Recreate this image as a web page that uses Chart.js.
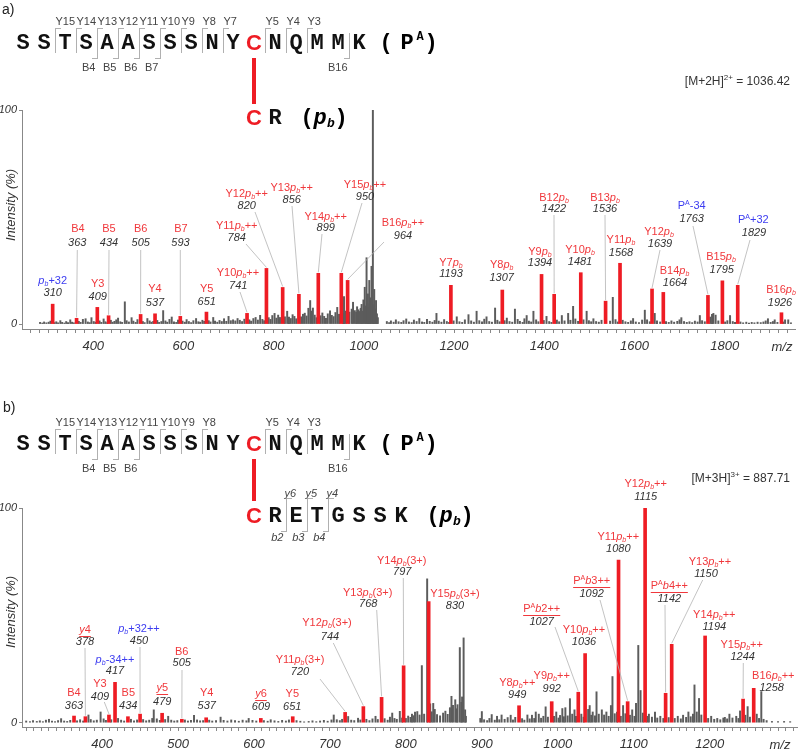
<!doctype html>
<html>
<head>
<meta charset="utf-8" />
<script src="https://cdn.jsdelivr.net/npm/chart.js@4.4.1/dist/chart.umd.min.js"></script>
<style>
  body { margin: 0; background: #fff; }
  #fig { position: relative; width: 800px; height: 752px; overflow: hidden; background: #fff;
         font-family: "Liberation Sans", Arial, sans-serif; }
  #fig canvas { position: absolute; left: 0; }
  .t { position: absolute; white-space: nowrap; line-height: 1; }
  .t sup { font-size: 8px; vertical-align: 5px; line-height: 0; }
</style>
</head>
<body>
<div id="fig">
  <canvas id="chartA" width="800" height="360" style="top:0px"></canvas>
  <canvas id="chartB" width="800" height="382" style="top:370px"></canvas>
</div>
<script>
  // ---- peptide / header data ----
  const peptide = "SSTSAASSSNYCNQMMK";
  const crossSite = 11;
  const yIonsA = [15, 14, 13, 12, 11, 10, 9, 8, 7, 5, 4, 3];
  const bIonsA = [4, 5, 6, 7, 16];
  const yIonsB = [15, 14, 13, 12, 11, 10, 9, 8, 5, 4, 3];
  const bIonsB = [4, 5, 6, 16];
  const linkA = "CR";
  const linkB = "CRETGSSK";
  const linkYIonsB = [6, 5, 4];
  const linkBIonsB = [2, 3, 4];
  const precursorA = ["[M+2H]", "2+", "1036.42"];
  const precursorB = ["[M+3H]", "3+", "887.71"];

  // ---- axis ticks ----
  const xTicksA = [400, 600, 800, 1000, 1200, 1400, 1600, 1800];
  const xTicksB = [400, 500, 600, 700, 800, 900, 1000, 1100, 1200];
  const yTicks = [0, 100];

  // ---- panel a: assigned (red) peaks ----
  const redMzA = [310, 363, 409, 434, 505, 537, 593, 651, 741, 784, 820, 856, 899, 950, 964,
                  1193, 1307, 1394, 1422, 1481, 1536, 1568, 1639, 1664, 1763, 1795, 1829, 1926];
  const redIntA = [9.3, 2.7, 7.8, 3.9, 4.5, 4.8, 3.6, 5.6, 5.0, 26.0, 17.1, 13.9, 23.7, 23.7, 20.4,
                   18.1, 15.9, 23.2, 13.9, 24.0, 10.7, 28.4, 16.4, 14.8, 13.4, 20.2, 18.1, 5.3];
  const namesA = ["~p~_b+32", "B4", "Y3", "B5", "B6", "Y4", "B7", "Y5",
                  "Y10~p~_b++", "Y11~p~_b++", "Y12~p~_b++", "Y13~p~_b++", "Y14~p~_b++", "Y15~p~_b++", "B16~p~_b++",
                  "Y7~p~_b", "Y8~p~_b", "Y9~p~_b", "B12~p~_b", "Y10~p~_b", "B13~p~_b", "Y11~p~_b", "Y12~p~_b",
                  "B14~p~_b", "P^A-34", "B15~p~_b", "P^A+32", "B16~p~_b"];
  const blueA = [310, 1763, 1829];
  const underA = [];

  // ---- panel a: unassigned (grey) peaks [m/z, %] ----
  const grayA = [
    [282,0.8],[287,0.5],[291,1.0],[296,0.6],[301,0.9],[305,1.4],[314,0.7],[318,1.1],[322,0.6],[327,1.6],
    [331,0.8],[336,0.5],[340,1.2],[344,0.7],[349,2.0],[353,0.9],[357,0.6],[368,1.3],[372,0.8],[377,2.2],
    [383,2.5],[388,1.0],[392,0.7],[396,3.0],[401,1.2],[405,0.9],[414,1.5],[418,0.8],[423,2.4],[427,1.1],
    [431,0.7],[439,1.8],[443,0.9],[447,1.3],[451,2.0],[455,2.8],[460,1.1],[464,0.8],[470,10.4],[474,1.6],
    [479,1.0],[485,3.0],[489,1.4],[494,0.8],[498,2.1],[510,1.2],[514,0.7],[520,2.6],[525,1.5],[529,0.9],
    [533,1.3],[542,1.7],[546,0.8],[551,1.2],[555,6.3],[560,1.5],[564,0.9],[569,2.2],[574,3.3],[579,1.1],
    [584,0.8],[588,1.9],[598,1.4],[603,0.9],[607,2.1],[612,1.2],[617,0.7],[622,1.6],[628,2.6],[633,1.1],
    [637,0.9],[642,1.8],[646,1.3],[656,1.6],[660,1.0],[666,3.1],[670,1.4],[675,0.9],[680,1.7],[685,1.2],
    [690,2.5],[695,1.3],[700,3.6],[705,1.6],[710,2.0],[715,1.5],[720,2.6],[725,1.8],[730,1.2],[735,2.3],
    [746,2.0],[750,1.4],[755,2.6],[760,3.1],[765,1.9],[770,4.1],[775,2.2],[779,1.6],[789,3.0],[793,2.2],
    [797,4.0],[802,5.0],[806,2.8],[810,4.2],[814,3.1],[825,3.4],[830,6.0],[834,3.3],[838,2.6],[842,4.4],
    [846,3.6],[850,2.5],[861,3.4],[865,4.6],[869,5.1],[873,3.8],[877,7.4],[881,11.0],[884,6.1],[887,7.5],
    [891,4.2],[895,3.0],[904,3.9],[908,5.2],[912,3.6],[916,2.7],[920,4.8],[925,6.2],[929,4.1],[933,3.5],
    [937,5.4],[941,7.8],[945,4.6],[954,5.2],[956,12.8],[960,6.1],[968,5.6],[973,7.0],[976,10.2],[980,6.3],
    [983,5.5],[985,8.1],[988,6.7],[990,5.9],[993,7.4],[995,9.2],[997,6.0],[999,11.3],[1002,17.2],[1004,8.5],
    [1006,31.0],[1008,9.6],[1009,14.1],[1011,7.9],[1012,20.4],[1014,8.8],[1015,12.3],[1017,27.0],[1020,100],
    [1021,9.0],[1023,16.2],[1025,7.0],[1027,11.0],[1029,4.8],[1031,3.0],
    [1051,1.2],[1056,0.7],[1060,1.5],[1066,0.9],[1071,2.0],[1077,1.1],[1083,0.8],[1088,1.6],[1094,2.4],
    [1100,1.0],[1106,0.7],[1111,1.9],[1117,1.2],[1123,2.6],[1129,1.0],[1134,0.8],[1140,2.2],[1146,1.3],
    [1152,0.9],[1157,1.7],[1161,5.0],[1166,1.4],[1172,0.9],[1178,2.1],[1184,1.2],[1189,0.8],[1199,1.5],
    [1206,3.4],[1212,1.1],[1218,0.8],[1224,2.0],[1232,4.4],[1238,1.5],[1244,0.9],[1250,6.0],[1256,1.6],
    [1262,1.0],[1267,2.3],[1272,3.4],[1278,1.2],[1284,0.9],[1291,7.5],[1296,1.8],[1301,1.1],[1312,1.6],
    [1317,2.8],[1323,1.2],[1329,0.9],[1335,7.0],[1341,2.2],[1346,1.3],[1352,0.8],[1356,2.5],[1361,4.0],
    [1366,1.4],[1371,1.0],[1376,6.0],[1382,2.0],[1387,1.1],[1399,1.7],[1405,3.6],[1411,1.2],[1416,0.8],
    [1428,1.9],[1433,1.1],[1439,4.0],[1445,1.5],[1453,5.0],[1458,1.8],[1464,8.3],[1469,2.4],[1475,1.3],
    [1487,2.0],[1494,6.0],[1499,1.6],[1504,1.1],[1509,2.5],[1515,1.2],[1521,0.9],[1527,1.8],[1546,1.4],
    [1552,12.5],[1558,2.1],[1563,1.0],[1574,1.8],[1580,1.1],[1586,0.8],[1592,1.5],[1597,2.6],[1603,1.0],
    [1610,0.7],[1617,1.9],[1623,6.5],[1628,2.0],[1634,1.1],[1645,5.0],[1650,1.5],[1657,1.0],[1670,1.2],
    [1676,0.8],[1682,1.5],[1688,0.9],[1695,1.3],[1700,2.0],[1704,3.0],[1710,1.2],[1716,0.8],[1722,1.1],
    [1728,0.7],[1734,1.4],[1740,1.0],[1745,4.0],[1750,1.6],[1756,1.1],[1768,3.3],[1772,4.5],[1775,5.0],
    [1780,4.2],[1786,1.5],[1801,1.0],[1806,1.6],[1812,4.0],[1818,1.2],[1823,0.8],[1835,1.0],[1841,0.6],
    [1848,0.9],[1854,0.5],[1860,0.8],[1866,0.6],[1873,0.9],[1880,0.7],[1886,1.0],[1891,1.5],[1896,2.5],
    [1902,0.8],[1907,1.2],[1911,2.0],[1917,0.8],[1930,1.0],[1934,2.0],[1941,2.0],[1947,0.6]
  ];

  // ---- panel b: assigned (red) peaks ----
  const redMzB = [363, 378, 409, 417, 434, 450, 479, 505, 537, 609, 651, 720, 744, 768, 797, 830,
                  949, 992, 1027, 1036, 1080, 1092, 1115, 1142, 1150, 1194, 1244, 1258];
  const redIntB = [3.1, 2.8, 3.6, 18.8, 2.8, 4.0, 4.4, 1.6, 2.3, 2.0, 2.8, 4.8, 7.5, 11.8, 26.5, 56.4,
                   7.9, 9.8, 14.2, 32.2, 75.8, 9.8, 100, 13.7, 36.5, 40.4, 11.0, 16.0];
  const namesB = ["B4", "~y~4", "Y3", "~p~_b-34++", "B5", "~p~_b+32++", "~y~5", "B6", "Y4", "~y~6", "Y5",
                  "Y11~p~_b(3+)", "Y12~p~_b(3+)", "Y13~p~_b(3+)", "Y14~p~_b(3+)", "Y15~p~_b(3+)",
                  "Y8~p~_b++", "Y9~p~_b++", "P^A~b~2++", "Y10~p~_b++", "Y11~p~_b++", "P^A~b~3++",
                  "Y12~p~_b++", "P^A~b~4++", "Y13~p~_b++", "Y14~p~_b++", "Y15~p~_b++", "B16~p~_b++"];
  const blueB = [417, 450];
  const underB = [378, 479, 609, 1027, 1092, 1142];

  // ---- panel b: unassigned (grey) peaks [m/z, %] ----
  const grayB = [
    [300,0.8],[305,0.5],[309,1.0],[314,0.6],[318,0.9],[322,0.5],[326,1.2],[330,1.6],[334,0.7],[338,0.5],
    [342,1.0],[346,1.9],[350,0.8],[354,0.6],[358,1.1],[367,0.9],[371,1.4],[375,0.8],[382,3.6],[385,1.5],
    [389,0.9],[393,1.2],[398,5.0],[402,1.8],[405,1.1],[412,1.4],[421,2.0],[425,1.2],[429,0.8],[438,1.6],
    [442,0.9],[446,1.3],[454,1.5],[458,0.9],[462,1.2],[466,2.0],[468,6.0],[472,1.8],[476,1.1],[483,1.5],
    [487,3.0],[491,1.2],[495,0.8],[499,1.0],[509,1.3],[513,0.8],[517,1.1],[521,3.4],[525,1.3],[529,0.9],
    [533,1.0],[541,1.2],[545,0.8],[550,1.0],[556,2.6],[560,1.1],[565,0.8],[570,1.3],[575,1.0],[580,0.7],
    [585,1.2],[590,0.9],[593,2.0],[598,1.1],[603,0.8],[613,1.0],[618,0.7],[622,1.4],[627,0.9],[632,0.6],
    [637,1.1],[642,0.8],[646,1.3],[656,1.0],[661,0.7],[666,0.4],[672,0.6],[677,0.9],[682,0.5],[687,0.8],
    [692,1.1],[697,0.7],[702,1.3],[705,3.6],[709,1.4],[713,1.0],[716,1.6],[724,2.9],[728,1.2],[732,1.0],
    [737,2.1],[740,1.3],[748,1.6],[752,1.0],[756,1.8],[760,3.0],[763,1.5],[772,1.9],[776,1.2],[779,2.6],
    [782,4.5],[785,2.0],[788,1.6],[792,5.3],[795,2.2],[800,2.0],[803,3.1],[806,2.5],[808,4.0],[810,3.3],
    [812,5.0],[815,5.2],[818,3.6],[821,26.6],[824,4.0],[828,67.0],[832,8.8],[834,5.1],[836,9.0],[838,6.2],
    [841,3.8],[845,3.2],[849,4.5],[852,5.4],[855,3.9],[858,7.0],[860,12.3],[862,8.1],[865,10.7],[867,6.5],
    [868,8.4],[871,35.0],[873,9.5],[874,12.0],[876,39.5],[878,6.0],[879,3.0],
    [898,2.0],[900,5.2],[903,1.4],[907,1.0],[910,2.0],[913,3.8],[917,1.2],[920,3.0],[923,1.4],[926,3.6],
    [930,1.6],[934,2.4],[938,3.5],[941,1.3],[944,2.5],[953,1.9],[956,1.2],[960,3.6],[963,1.8],[966,3.5],
    [969,2.0],[971,5.0],[975,4.0],[978,2.1],[981,3.0],[984,7.4],[987,2.6],[995,3.0],[998,5.0],[1001,2.2],
    [1003,3.4],[1006,6.6],[1008,2.8],[1010,7.0],[1013,3.2],[1016,11.2],[1019,4.0],[1022,6.0],[1024,3.0],
    [1031,4.0],[1034,2.6],[1040,6.2],[1042,8.0],[1044,3.5],[1046,5.0],[1049,3.2],[1051,14.4],[1054,4.0],
    [1058,6.0],[1061,3.6],[1064,5.0],[1067,3.0],[1070,8.0],[1072,21.5],[1075,4.2],[1078,5.0],[1083,3.0],
    [1086,8.0],[1089,4.2],[1095,3.5],[1098,6.0],[1101,3.0],[1103,9.0],[1106,36.0],[1109,15.0],[1112,4.5],
    [1118,3.0],[1120,4.0],[1124,2.6],[1128,5.0],[1131,2.2],[1135,3.0],[1139,2.0],[1146,2.4],[1154,2.0],
    [1158,3.0],[1162,1.8],[1165,3.5],[1169,2.5],[1172,5.0],[1175,2.8],[1178,4.0],[1180,17.6],[1183,5.0],
    [1186,11.3],[1189,3.6],[1198,2.0],[1202,3.0],[1206,1.6],[1210,2.0],[1214,1.4],[1218,2.2],[1220,2.5],
    [1223,1.8],[1226,4.0],[1230,2.2],[1235,3.0],[1238,2.0],[1240,5.5],[1247,3.5],[1250,7.5],[1253,2.6],
    [1262,4.0],[1265,2.0],[1268,14.5],[1271,1.6],[1275,1.0],[1282,0.6],[1290,0.5],[1298,0.6],[1306,0.5]
  ];

  // ---- label layout (page px): name x,y, number x,y, optional leader start x,y ----
  const labelPosA = [
    [52.7,281, 52.7,293], [78,229, 77.3,243, 77.3,250], [97.7,284, 97.7,297], [109,229, 109,243, 109,250],
    [140.7,229, 140.7,243, 140.7,250], [155,289, 155,303], [181,229, 180.5,243, 180.3,250], [206.7,289, 206.7,302],
    [238,273, 238.3,286, 240,292], [236.7,226, 236.7,238, 246,244], [246.7,194, 246.7,206, 255,212],
    [291.7,188, 291.7,200, 292,206], [325.7,217, 325.7,228, 322,234], [365,185, 365,197, 362,203],
    [403,223, 403,236, 384,242], [451,263, 451,274], [501.7,265, 501.7,278], [540,252, 540,263],
    [554,198, 554,209, 554,215], [580,250, 580,262], [605,198, 605,209, 605,215], [621,240, 621,252.5],
    [659,232, 660,244, 660,250], [674.5,271, 675,283], [691.7,206, 691.7,219, 693,226], [721,257, 721.7,270],
    [753.3,220, 754,232.7, 750,240], [781,290, 780,303]
  ];
  const labelPosB = [
    [74,693, 74,706], [85,630, 85,642, 85,648], [100,684, 100,697, 104.3,702], [115,660, 115,671],
    [128.3,693, 128.3,706], [139,629, 139,641, 140,647], [162.3,688, 162.3,702], [181.7,652, 181.7,663, 182,670],
    [206.7,693, 206.7,706], [261,694, 261,707], [292.3,694, 292.3,706.5], [300,660, 300,672, 320,679],
    [327,623, 330,637, 333.3,643], [367.7,593, 368.3,604, 376.7,610], [401.7,561, 402.3,572, 403.3,578],
    [455,594, 455,606], [517.3,683, 517.3,695], [551.7,676, 551.7,689], [541.7,609, 541.7,622, 555,627],
    [584,630, 584,642], [618.3,537, 618.3,549], [591.7,581, 591.7,594, 600,600], [645.7,484, 645.7,497],
    [669.3,586, 669.3,599, 665,605], [710,562, 706,574, 702.7,580], [714.3,615, 714.3,627],
    [741.7,645, 742.7,657, 743.3,663], [773.3,676, 771.7,688]
  ];

  const RED = "#ee1c24";
  const RED_TXT = "#f0383c";
  const BLUE_TXT = "#3c3cf0";
  const GRAY_BAR = "#5c5c5c";
  const FONT = '"Liberation Sans", Arial, sans-serif';
  const MONO = 'bold 22px "Liberation Mono", "DejaVu Sans Mono", monospace';
  const X0 = 23, PITCH = 21;

  // ---- header (sequence diagrams) as HTML text ----
  const fig = document.getElementById("fig");
  function put(html, x, y, style, align) {
    const d = document.createElement("div");
    d.className = "t";
    d.innerHTML = html;
    d.style.left = x + "px";
    d.style.top = y + "px";
    const tx = align === "left" ? "0" : align === "right" ? "-100%" : "-50%";
    d.style.transform = `translate(${tx},-50%)`;
    Object.assign(d.style, style || {});
    fig.appendChild(d);
    return d;
  }
  function box(x, y, w, h, style) {
    const d = document.createElement("div");
    Object.assign(d.style, { position: "absolute", left: x + "px", top: y + "px", width: w + "px", height: h + "px" }, style);
    fig.appendChild(d);
  }
  const cx = i => X0 + PITCH * i;
  const smallGray = { font: "11px " + FONT, color: "#444" };
  const bracketY = { borderLeft: "1px solid #b0b0b0", borderTop: "1px solid #b0b0b0" };
  const bracketB = { borderRight: "1px solid #b0b0b0", borderBottom: "1px solid #b0b0b0" };

  function letter(ch, i, row, red) {
    if (red) put(ch, cx(i), row + 1, { font: "bold 22px " + FONT, color: RED });
    else put(ch, cx(i), row + 1, { font: MONO, color: "#111" });
  }

  function header(h) {
    put(h.tag, h.tagX, h.tagY, { font: "14px " + FONT, color: "#222" }, "left");
    peptide.split("").forEach((ch, i) => letter(ch, i, h.row, i === crossSite));
    const k = cx(peptide.length - 1);
    put("(", k + 27, h.row + 1, { font: MONO });
    put("P", k + 48, h.row + 1, { font: MONO });
    put("A", k + 61, h.row - 5, { font: 'bold 12px "Liberation Mono", monospace' });
    put(")", k + 72, h.row + 1, { font: MONO });
    h.yIons.forEach(n => {
      const bx = cx(peptide.length - n) - PITCH / 2;
      box(bx, h.row - 14, 5, 24, bracketY);
      put("Y" + n, bx + 1, h.row - 21, smallGray, "left");
    });
    h.bIons.forEach(n => {
      const bx = cx(n - 1) + PITCH / 2;
      box(bx - 5, h.row - 9, 5, 25, bracketB);
      put("B" + n, bx - 1, h.row + 25, smallGray, "right");
    });
    box(cx(crossSite) - 2, h.barTop, 4, h.barBottom - h.barTop, { background: RED });
    h.link.split("").forEach((ch, j) => letter(ch, crossSite + j, h.row2, j === 0));
    const e = cx(crossSite + h.link.length - 1);
    put("(", e + 32, h.row2 + 1, { font: MONO });
    put("p", e + 45, h.row2 + 1, { font: "italic " + MONO });
    put("b", e + 56, h.row2 + 6, { font: 'bold italic 13px "Liberation Mono", monospace' });
    put(")", e + 66, h.row2 + 1, { font: MONO });
    (h.linkY || []).forEach(n => {
      const bx = cx(crossSite + h.link.length - n) - PITCH / 2;
      box(bx, h.row2 - 17, 5, 24, bracketY);
      put("y" + n, bx - 1, h.row2 - 22, { font: "italic 11px " + FONT, color: "#444" }, "left");
    });
    (h.linkB || []).forEach(n => {
      const bx = cx(crossSite + n - 1) + PITCH / 2;
      box(bx - 5, h.row2 - 8, 5, 24, bracketB);
      put("b" + n, bx - 2, h.row2 + 22, { font: "italic 11px " + FONT, color: "#444" }, "right");
    });
    const p = h.precursor;
    put(`${p[0]}<sup>${p[1]}</sup> = ${p[2]}`, 790, h.precY, { font: "12px " + FONT, color: "#333" }, "right");
  }

  header({ tag: "a)", tagX: 2, tagY: 9, row: 42, row2: 117, barTop: 58, barBottom: 104,
           yIons: yIonsA, bIons: bIonsA, link: linkA, precursor: precursorA, precY: 81 });
  header({ tag: "b)", tagX: 3, tagY: 407, row: 443, row2: 515, barTop: 459, barBottom: 501,
           yIons: yIonsB, bIons: bIonsB, link: linkB, linkY: linkYIonsB, linkB: linkBIonsB,
           precursor: precursorB, precY: 478 });

  // ---- rich text for peak names: ~ toggles italic, _x subscript, ^x superscript ----
  function parseRich(s) {
    const segs = [];
    let it = false;
    for (let i = 0; i < s.length; i++) {
      const c = s[i];
      if (c === "~") { it = !it; continue; }
      if (c === "_" || c === "^") {
        segs.push({ t: s[++i], it: c === "_" ? true : it, sub: c === "_", sup: c === "^" });
        continue;
      }
      const last = segs[segs.length - 1];
      if (last && !last.sub && !last.sup && last.it === it) last.t += c;
      else segs.push({ t: c, it, sub: false, sup: false });
    }
    return segs;
  }
  function drawRich(ctx, s, x0, y0, size, color, underline) {
    const segs = parseRich(s);
    const fontOf = g => `${g.it ? "italic " : ""}${g.sub || g.sup ? Math.round(size * 0.68) : size}px ${FONT}`;
    let w = 0;
    segs.forEach(g => { ctx.font = fontOf(g); g.w = ctx.measureText(g.t).width; w += g.w; });
    let x = x0 - w / 2;
    ctx.fillStyle = color;
    ctx.textAlign = "left";
    ctx.textBaseline = "middle";
    segs.forEach(g => {
      ctx.font = fontOf(g);
      ctx.fillText(g.t, x, y0 + (g.sub ? size * 0.3 : g.sup ? -size * 0.3 : 0));
      x += g.w;
    });
    if (underline) {
      const uy = Math.round(y0 + size * 0.55) + 0.5;
      ctx.strokeStyle = color;
      ctx.lineWidth = 1;
      ctx.beginPath();
      ctx.moveTo(x0 - w / 2, uy);
      ctx.lineTo(x0 + w / 2, uy);
      ctx.stroke();
    }
  }

  function labelPlugin(o) {
    return {
      id: "peakLabels",
      afterDatasetsDraw(chart) {
        const { ctx, scales: { x, y } } = chart;
        const top = o.canvasTop;
        ctx.save();
        o.mz.forEach((m, i) => {
          const L = o.layout[i];
          const px = x.getPixelForValue(m), py = y.getPixelForValue(o.ints[i]);
          if (L.length > 4) {
            ctx.strokeStyle = "#b4b4b4";
            ctx.lineWidth = 0.8;
            ctx.beginPath();
            ctx.moveTo(L[4], L[5] - top);
            ctx.lineTo(px, py - 1);
            ctx.stroke();
          }
          const color = o.blue.includes(m) ? BLUE_TXT : RED_TXT;
          drawRich(ctx, o.names[i], L[0], L[1] - top, 11, color, o.under.includes(m));
          ctx.font = "italic 11px " + FONT;
          ctx.fillStyle = "#333";
          ctx.textAlign = "center";
          ctx.textBaseline = "middle";
          ctx.fillText(String(m), L[2], L[3] - top);
        });
        ctx.font = "italic 13px " + FONT;
        ctx.fillStyle = "#333";
        ctx.textAlign = "center";
        ctx.fillText("m/z", o.mzLabel[0], o.mzLabel[1] - top);
        ctx.translate(11, o.titleY - top);
        ctx.rotate(-Math.PI / 2);
        ctx.fillText("Intensity (%)", 0, 0);
        ctx.restore();
      }
    };
  }

  function makeChart(id, o) {
    return new Chart(document.getElementById(id), {
      type: "bar",
      data: {
        datasets: [
          { data: o.mz.map((m, i) => ({ x: m, y: o.ints[i] })), backgroundColor: RED,
            barThickness: 3, grouped: false, order: 0 },
          { data: o.gray.map(([m, v]) => ({ x: m, y: v })), backgroundColor: GRAY_BAR,
            barThickness: 1.3, grouped: false, order: 1 }
        ]
      },
      options: {
        responsive: false,
        animation: false,
        devicePixelRatio: 1,
        layout: { padding: o.pad },
        plugins: { legend: { display: false }, tooltip: { enabled: false } },
        scales: {
          x: {
            type: "linear", min: o.xMin, max: o.xMax, offset: false,
            afterFit: s => { s.height = o.xHeight; },
            grid: { drawOnChartArea: false, offset: false, tickLength: 4, color: "#888" },
            border: { color: "#888", width: 1 },
            ticks: {
              stepSize: o.step, autoSkip: false, maxRotation: 0, includeBounds: false, padding: 6,
              color: "#333", font: { size: 13, style: "italic", family: FONT },
              callback: v => (o.xTicks.includes(Math.round(v)) ? String(Math.round(v)) : "")
            }
          },
          y: {
            min: o.yMin, max: 100,
            afterFit: s => { s.width = 22; },
            afterBuildTicks: s => { s.ticks = yTicks.map(v => ({ value: v })); },
            grid: { drawOnChartArea: false, tickLength: 3, color: "#888" },
            border: { color: "#888", width: 1 },
            ticks: { padding: 2, color: "#333", font: { size: 11, style: "italic", family: FONT } }
          }
        }
      },
      plugins: [labelPlugin(o)]
    });
  }

  makeChart("chartA", {
    mz: redMzA, ints: redIntA, names: namesA, blue: blueA, under: underA, gray: grayA,
    layout: labelPosA, canvasTop: 0, xMin: 242, xMax: 1956, step: 20, xTicks: xTicksA,
    yMin: -2.3, xHeight: 31, pad: { top: 110, left: 0, right: 5, bottom: 0 },
    mzLabel: [782, 347], titleY: 205
  });
  makeChart("chartB", {
    mz: redMzB, ints: redIntB, names: namesB, blue: blueB, under: underB, gray: grayB,
    layout: labelPosB, canvasTop: 370, xMin: 294.5, xMax: 1315, step: 10, xTicks: xTicksB,
    yMin: -2.0, xHeight: 25, pad: { top: 138, left: 0, right: 3, bottom: 0 },
    mzLabel: [780, 745], titleY: 612
  });
</script>
</body>
</html>
